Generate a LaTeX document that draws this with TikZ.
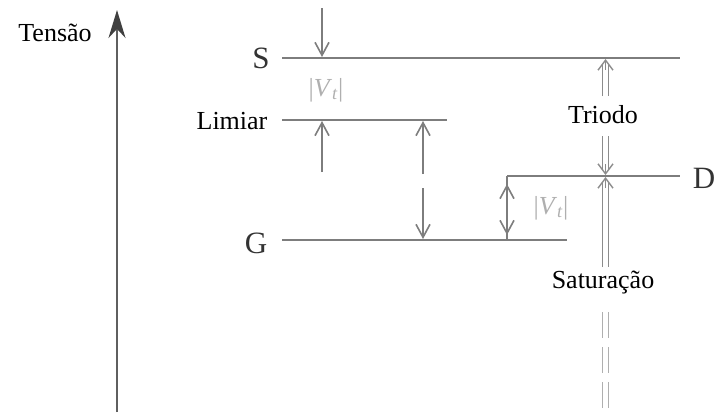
\documentclass[tikz,border=0pt]{standalone}
\usepackage{fontspec}
\setmainfont{Liberation Serif}
\usetikzlibrary{arrows.meta,positioning}
\definecolor{linegray}{RGB}{125,125,125}
\definecolor{axisgray}{RGB}{95,95,95}
\definecolor{softgray}{RGB}{140,140,140}
\definecolor{palegray}{RGB}{175,175,175}

\begin{document}
\begin{tikzpicture}[x=1pt,y=-1pt,>={Straight Barb[length=13pt,width=14pt]},
  level/.style={draw=linegray,line width=2.2pt},
  dim/.style={draw=linegray,line width=1.6pt},
  region/.style={draw=softgray,line width=1.3pt,double=white,double distance=4.5pt},
  regionhead/.style={draw=softgray,line width=1.4pt,-{Straight Barb[length=10pt,width=15pt]}},
  lbl/.style={font=\rmfamily\fontsize{26}{30}\selectfont},
  term/.style={font=\rmfamily\fontsize{31}{34}\selectfont,text=black!80},
  vt/.style={font=\rmfamily\fontsize{26}{30}\selectfont,text=palegray}]
  \useasboundingbox (0,0) rectangle (728,418);

  \coordinate (sL) at (282,58);   \coordinate (sR) at (680,58);
  \coordinate (lL) at (282,120);  \coordinate (lR) at (447,120);
  \coordinate (gL) at (282,240);  \coordinate (gR) at (567,240);
  \coordinate (dL) at (507,176);  \coordinate (dR) at (680,176);

  \draw[level] (sL) -- (sR);
  \draw[level] (lL) -- (lR);
  \draw[level] (gL) -- (gR);
  \draw[level] (dL) -- (dR);

  \node[term] (S) at (261,58) {S};
  \node[lbl] (limiar) at (232,121) {Limiar};
  \node[term] (G) at (256,243) {G};
  \node[term] (D) at (704,178) {D};
  \node[lbl] (tensao) at (55,33) {Tensão};

  \coordinate (origin) at (117,412);
  \coordinate (top) at (117,10);
  \draw[axisgray,line width=2pt,-{Stealth[length=28pt,width=17pt,color=black!75]}] (origin) -- (top);

  \draw[dim,->] (322,8) -- (322,57);
  \node[vt] (vt1) at (326,90) {|\textit{V}\textsubscript{\textit{t}}|};
  \draw[dim,->] (322,172) -- (322,121);

  \draw[dim,->] (423,174) -- (423,121);
  \draw[dim,->] (423,188) -- (423,239);

  \draw[dim] (dL) -- (507,240);
  \draw[dim,<->] (507,184) -- (507,235);
  \node[vt] (vt2) at (551,208) {|\textit{V}\textsubscript{\textit{t}}|};

  \node[lbl] (triodo) at (603,115) {Triodo};
  \node[lbl] (saturacao) at (603,283) {Saturação};
  \draw[region] (605.5,96) -- (605.5,64);
  \draw[regionhead] (605.5,70) -- (605.5,59);
  \draw[region] (605.5,136) -- (605.5,170);
  \draw[regionhead] (605.5,164) -- (605.5,175);
  \draw[region] (605.5,267) -- (605.5,182);
  \draw[regionhead] (605.5,188) -- (605.5,177);
  \draw[draw=palegray,line width=1.2pt,double=white,double distance=4.5pt,
        dash pattern=on 26pt off 9pt] (605.5,312) -- (605.5,410);
\end{tikzpicture}
\end{document}
